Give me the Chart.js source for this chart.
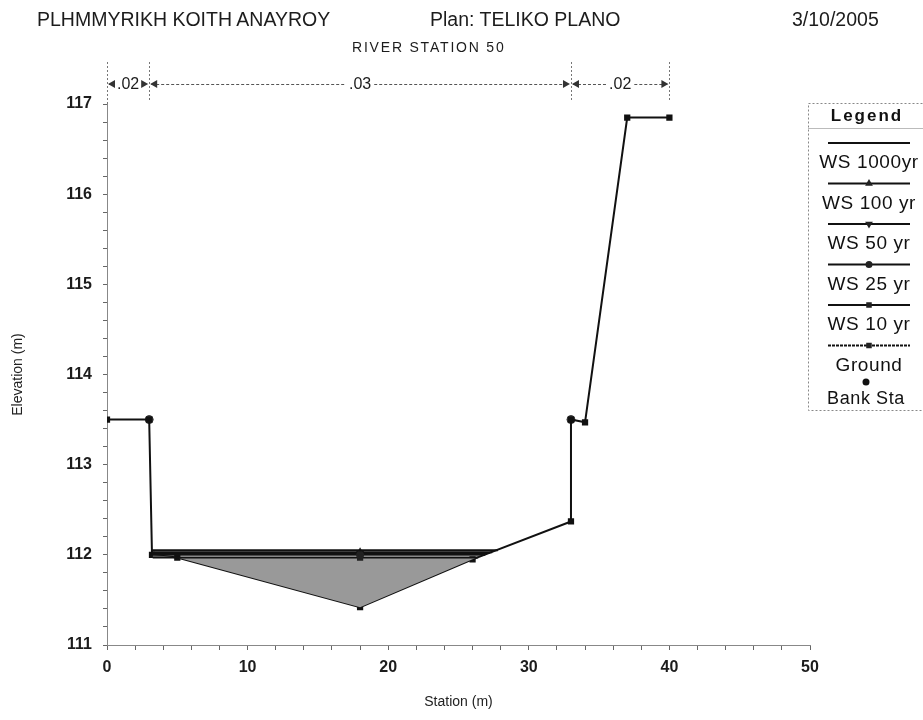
<!DOCTYPE html>
<html>
<head>
<meta charset="utf-8">
<script src="https://cdn.jsdelivr.net/npm/chart.js@4.4.0/dist/chart.umd.min.js"></script>
<style>
  html, body { margin: 0; padding: 0; background: #fff; }
  #wrap { position: relative; width: 923px; height: 720px; overflow: hidden; }
  #xsChart { position: absolute; left: 0; top: 0; }
  .t { position: absolute; font-family: "Liberation Sans", Arial, sans-serif; color: #1c1c1c; white-space: nowrap; line-height: 1; }
</style>
</head>
<body>
<div id="wrap">
  <canvas id="xsChart" width="923" height="720"></canvas>
  <div class="t" style="left:37px;top:10px;font-size:19.5px">PLHMMYRIKH KOITH ANAYROY</div>
  <div class="t" style="left:430px;top:10px;font-size:19.5px">Plan: TELIKO PLANO</div>
  <div class="t" style="left:792px;top:10px;font-size:19.5px">3/10/2005</div>
  <div class="t" style="left:352px;top:40px;font-size:14px;letter-spacing:1.8px">RIVER STATION 50</div>
</div>
<script>
// ground profile
const groundStation = [0, 3, 3.2, 5, 18, 26, 33, 33, 34, 37, 40];
const groundElev = [113.5, 113.5, 112.0, 111.97, 111.42, 111.95, 112.37, 113.5, 113.47, 116.85, 116.85];

// bank stations
const bankStation = [3, 33];
const bankElev = [113.5, 113.5];

// water surfaces
const profiles = ["WS 1000yr", "WS 100 yr", "WS 50 yr", "WS 25 yr", "WS 10 yr"];
const wsElev = [112.05, 112.03, 112.02, 112.00, 111.97];
const wsLeft = [3.2, 3.2, 3.2, 3.2, 3.25];
const wsMid = [18, 18, 18, 18, 18];
const wsRight = [27.8, 27.4, 27.2, 26.9, 26.4];
const wsMarker = [false, "triangle", "triangle", "circle", "rect"];
const wsMarkerRot = [0, 0, 180, 0, 0];

// manning's n
const nBreaks = [0, 3, 33, 40];
const nValues = [".02", ".03", ".02"];

const stationTicks = [0, 10, 20, 30, 40, 50];
const elevTicks = [111, 112, 113, 114, 115, 116, 117];

const FONT = '"Liberation Sans", Arial, sans-serif';

const datasets = profiles.map((name, i) => ({
  label: name,
  data: [
    { x: wsLeft[i], y: wsElev[i] },
    { x: wsMid[i], y: wsElev[i] },
    { x: wsRight[i], y: wsElev[i] }
  ],
  borderColor: "#111",
  borderWidth: 2,
  pointRadius: wsMarker[i] ? [0, 3, 0] : 0,
  pointStyle: wsMarker[i] || "circle",
  rotation: wsMarkerRot[i],
  pointBackgroundColor: "#222",
  pointBorderColor: "#222",
  fill: false,
  tension: 0
}));

// fill the lowest profile down to the ground
datasets[profiles.length - 1].fill = profiles.length;
datasets[profiles.length - 1].backgroundColor = "#999999";

datasets.push({
  label: "Ground",
  data: groundStation.map((s, i) => ({ x: s, y: groundElev[i] })),
  borderColor: "#111",
  borderWidth: 2,
  pointStyle: "rect",
  pointRadius: 3,
  pointBackgroundColor: "#111",
  pointBorderColor: "#111",
  fill: false,
  tension: 0
});

datasets.push({
  label: "Bank Sta",
  data: bankStation.map((s, i) => ({ x: s, y: bankElev[i] })),
  showLine: false,
  pointStyle: "circle",
  pointRadius: 4,
  pointBackgroundColor: "#333",
  pointBorderColor: "#333"
});

// n-value bars above the plot
const nValuePlugin = {
  id: "nValues",
  afterDraw(chart) {
    const ctx = chart.ctx;
    const xs = chart.scales.x;
    const top = chart.chartArea.top;
    const rowY = 84;
    ctx.save();
    ctx.strokeStyle = "#777";
    ctx.lineWidth = 1;
    ctx.setLineDash([2, 2]);
    nBreaks.forEach((b, i) => {
      const px = Math.round(xs.getPixelForValue(b)) + 0.5;
      ctx.beginPath();
      ctx.moveTo(px, 62);
      ctx.lineTo(px, i === 0 ? top : 101);
      ctx.stroke();
    });
    ctx.font = "16px " + FONT;
    ctx.textAlign = "center";
    ctx.textBaseline = "middle";
    for (let i = 0; i < nValues.length; i++) {
      const a = xs.getPixelForValue(nBreaks[i]);
      const b = xs.getPixelForValue(nBreaks[i + 1]);
      const mid = (a + b) / 2;
      const w = ctx.measureText(nValues[i]).width;
      ctx.setLineDash([3, 2]);
      ctx.strokeStyle = "#555";
      ctx.beginPath();
      ctx.moveTo(a + 2, rowY + 0.5);
      ctx.lineTo(mid - w / 2 - 3, rowY + 0.5);
      ctx.moveTo(mid + w / 2 + 3, rowY + 0.5);
      ctx.lineTo(b - 2, rowY + 0.5);
      ctx.stroke();
      ctx.setLineDash([]);
      ctx.fillStyle = "#333";
      // arrowheads pointing out to the breaks
      ctx.beginPath();
      ctx.moveTo(a + 1, rowY); ctx.lineTo(a + 8, rowY - 4); ctx.lineTo(a + 8, rowY + 4); ctx.closePath();
      ctx.moveTo(b - 1, rowY); ctx.lineTo(b - 8, rowY - 4); ctx.lineTo(b - 8, rowY + 4); ctx.closePath();
      ctx.fill();
      ctx.fillStyle = "#1c1c1c";
      ctx.fillText(nValues[i], mid, rowY + 1);
    }
    ctx.restore();
  }
};

// legend box at the right
const legendPlugin = {
  id: "xsLegend",
  afterDraw(chart) {
    const ctx = chart.ctx;
    const left = 808, right = 923, top = 103, bottom = 410;
    const cx = 866;
    ctx.save();
    ctx.strokeStyle = "#888";
    ctx.lineWidth = 1;
    ctx.setLineDash([2, 2]);
    ctx.strokeRect(left + 0.5, top + 0.5, right - left, bottom - top);
    ctx.setLineDash([]);
    ctx.strokeStyle = "#bbb";
    ctx.beginPath();
    ctx.moveTo(left, 128.5);
    ctx.lineTo(right, 128.5);
    ctx.stroke();

    ctx.fillStyle = "#111";
    ctx.textAlign = "center";
    ctx.textBaseline = "middle";
    ctx.font = "bold 17px " + FONT;
    if (ctx.letterSpacing !== undefined) ctx.letterSpacing = "2px";
    ctx.fillText("Legend", cx + 1, 116);
    if (ctx.letterSpacing !== undefined) ctx.letterSpacing = "0.6px";

    const lines = chart.data.datasets.slice(0, profiles.length + 1);
    ctx.font = "19px " + FONT;
    lines.forEach((ds, i) => {
      const ly = 143 + i * 40.5;
      ctx.strokeStyle = "#111";
      ctx.lineWidth = 2;
      ctx.setLineDash(ds.label === "Ground" ? [3, 1] : []);
      ctx.beginPath();
      ctx.moveTo(828, ly);
      ctx.lineTo(910, ly);
      ctx.stroke();
      ctx.setLineDash([]);
      const style = ds.label === "Ground" ? "rect" : (i < profiles.length ? wsMarker[i] : false);
      if (style) {
        ctx.fillStyle = "#222";
        ctx.strokeStyle = "#222";
        Chart.helpers.drawPoint(ctx, {
          pointStyle: style, radius: 2.5, borderWidth: 1,
          rotation: i < profiles.length ? wsMarkerRot[i] : 0
        }, 869, ly);
      }
      ctx.fillStyle = "#111";
      ctx.fillText(ds.label, cx + 3, ly + 20);
    });
    const bank = chart.data.datasets[profiles.length + 1];
    ctx.fillStyle = "#111";
    ctx.beginPath();
    ctx.arc(866, 382, 3.5, 0, Math.PI * 2);
    ctx.fill();
    ctx.font = "18px " + FONT;
    ctx.fillText(bank.label, cx, 399);
    ctx.restore();
  }
};

const isOn = (list, v) => list.some(t => Math.abs(t - v) < 1e-6);

new Chart(document.getElementById("xsChart").getContext("2d"), {
  type: "line",
  data: { datasets },
  options: {
    responsive: false,
    animation: false,
    layout: { padding: { top: 104, right: 113, left: 0, bottom: 0 } },
    plugins: {
      legend: { display: false },
      tooltip: { enabled: false },
      filler: { propagate: false }
    },
    scales: {
      x: {
        type: "linear",
        min: stationTicks[0],
        max: stationTicks[stationTicks.length - 1],
        afterFit(scale) { scale.height = 75; },
        ticks: {
          stepSize: 2,
          autoSkip: false,
          maxRotation: 0,
          padding: 8,
          color: "#1c1c1c",
          font: { family: FONT, size: 16, weight: "bold" },
          callback: v => isOn(stationTicks, v) ? String(Math.round(v)) : ""
        },
        grid: { drawOnChartArea: false, tickLength: 5, color: "#666", tickColor: "#666" },
        border: { display: true, color: "#888", dash: [2, 2] },
        title: {
          display: true, text: "Station (m)", color: "#222",
          font: { family: FONT, size: 14 }, padding: { top: 0, bottom: 9 }
        }
      },
      y: {
        type: "linear",
        min: elevTicks[0],
        max: elevTicks[elevTicks.length - 1],
        afterFit(scale) { scale.width = 107; },
        ticks: {
          stepSize: 0.2,
          autoSkip: false,
          padding: 11,
          color: "#1c1c1c",
          font: { family: FONT, size: 16, weight: "bold" },
          callback: v => isOn(elevTicks, v) ? String(Math.round(v)) : ""
        },
        grid: { drawOnChartArea: false, tickLength: 4, color: "#666", tickColor: "#666" },
        border: { display: true, color: "#888", dash: [2, 2] },
        title: {
          display: true, text: "Elevation (m)", color: "#222",
          font: { family: FONT, size: 14 }, padding: { top: 10, bottom: 0 }
        }
      }
    }
  },
  plugins: [nValuePlugin, legendPlugin]
});
</script>
</body>
</html>
